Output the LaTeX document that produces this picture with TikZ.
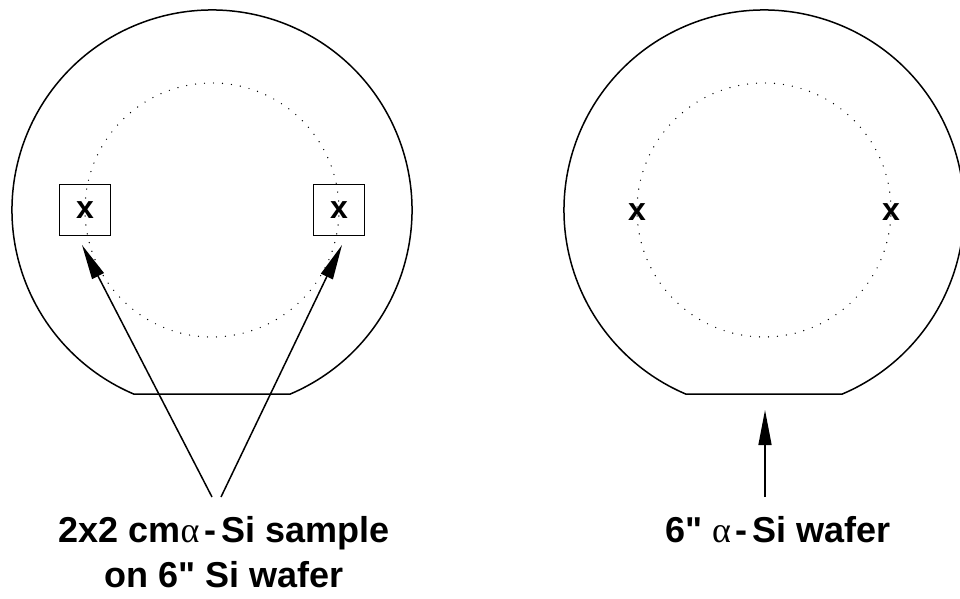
\documentclass[tikz,border=0pt]{standalone}
\usepackage{fontspec}
\setmainfont{Liberation Sans}[Ligatures=TeXOff]
\newfontfamily\greekfont{Liberation Serif}
\usetikzlibrary{arrows.meta}
\newcommand\alf{{\greekfont\mdseries α}}
\newcommand\qq{\symbol{34}}
\begin{document}
\begin{tikzpicture}[x=1pt,y=1pt,
  wafer/.style={line width=1.5pt},
  ring/.style={line width=1.4pt, dash pattern=on 0pt off 9pt, line cap=round},
  sample/.style={draw, line width=1.5pt, minimum size=51pt, inner sep=0pt},
  markx/.style={font=\fontsize{32}{32}\selectfont\bfseries, inner sep=0pt},
  pointer/.style={line width=1.5pt, -{Triangle[length=35pt,width=13pt]}},
  caption/.style={font=\fontsize{36}{45}\selectfont\bfseries, align=center}]
\useasboundingbox (0,0) rectangle (960,598);
\coordinate (cL) at (212,388);
\coordinate (cR) at (764,388);
% wafers
\draw[wafer] ([shift={(-66.93:200)}]cL) arc[start angle=-66.93,end angle=246.93,radius=200] -- cycle;
\draw[wafer] ([shift={(-66.93:200)}]cR) arc[start angle=-66.93,end angle=246.93,radius=200] -- cycle;
% dotted rings
\draw[ring] (cL) circle[radius=127];
\draw[ring] (cR) circle[radius=127];
% samples
\node[sample, markx] (box1) at (85,388) {x};
\node[sample, markx] (box2) at (339,388) {x};
\node[markx] (x3) at (637,386) {x};
\node[markx] (x4) at (891,386) {x};
% arrows
\coordinate (s1) at (212,101);
\coordinate (t1) at (82,353);
\coordinate (s2) at (221,101);
\coordinate (t2) at (342,353);
\coordinate (s3) at (765,101);
\coordinate (t3) at (765,188);
\draw[pointer] (s1) -- (t1);
\draw[pointer] (s2) -- (t2);
\draw[pointer] (s3) -- (t3);
% labels
\node[caption, anchor=base] (lab1) at (224,11) {2x2 cm\alf\kern5pt-\kern5pt Si sample\\on 6\qq{} Si wafer};
\node[caption, anchor=base] (lab2) at (778,56) {6\qq{} \alf\kern5pt-\kern5pt Si wafer};
\end{tikzpicture}
\end{document}
